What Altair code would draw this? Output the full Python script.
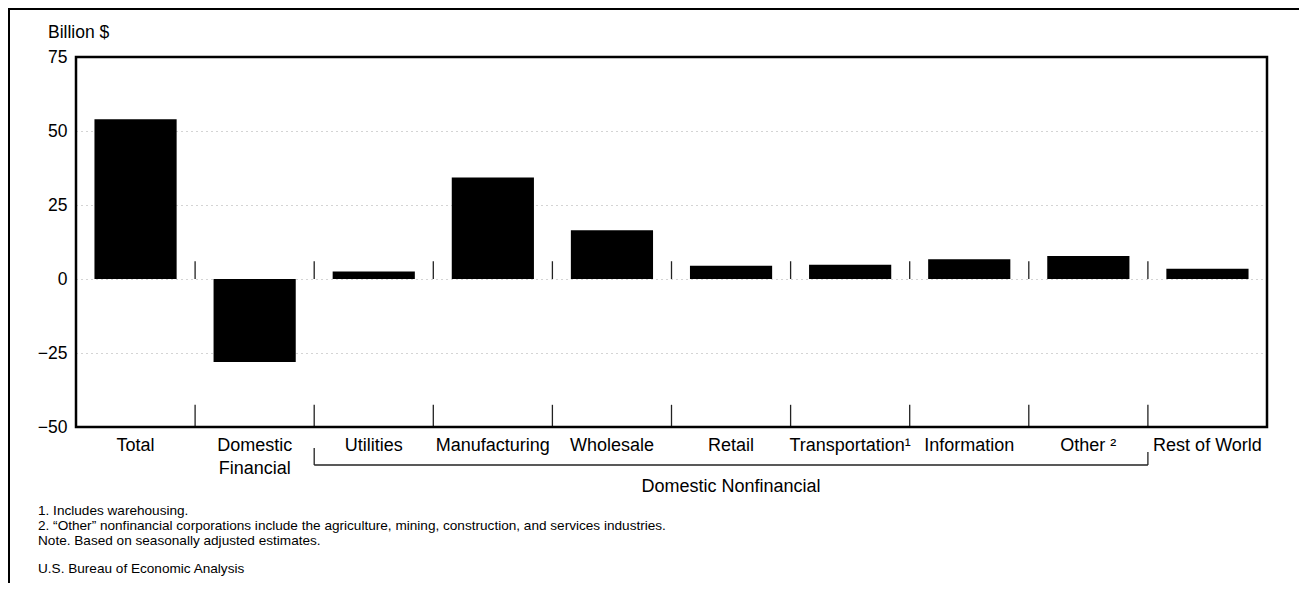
import altair as alt
import pandas as pd

categories = ["Total", "Domestic Financial", "Utilities", "Manufacturing", "Wholesale",
              "Retail", "Transportation", "Information", "Other", "Rest of World"]
values = [54.0, -28.0, 2.5, 34.3, 16.5, 4.5, 4.8, 6.7, 7.8, 3.5]
label_top = ["Total", "Domestic", "Utilities", "Manufacturing", "Wholesale",
             "Retail", "Transportation\u00b9", "Information", "Other \u00b2", "Rest of World"]
label_bottom = ["", "Financial", "", "", "", "", "", "", "", ""]
y_ticks = [-50, -25, 0, 25, 50, 75]
group_label = "Domestic Nonfinancial"
group_first = "Utilities"
group_last = "Other"
y_title = "Billion $"
footnotes = [
    "1. Includes warehousing.",
    "2. \u201cOther\u201d nonfinancial corporations include the agriculture, mining, construction, and services industries.",
    "Note. Based on seasonally adjusted estimates.",
]
source = "U.S. Bureau of Economic Analysis"

W, H = 1191, 370
FONT = "Liberation Sans, Arial, Helvetica, sans-serif"
NARROW = "Liberation Sans Narrow, Liberation Sans, Arial, sans-serif"

n = len(categories)
df = pd.DataFrame({"category": categories, "value": values,
                   "top": label_top, "bottom": label_bottom})
df["idx"] = range(n)
df["x0"] = df["idx"] + 0.155
df["x1"] = df["idx"] + 0.845
df["xc"] = df["idx"] + 0.5
sep = pd.DataFrame({"b": list(range(1, n))})
one = pd.DataFrame({"k": [0]})

xs = alt.Scale(domain=[0, n], nice=False, zero=False)
ys = alt.Scale(domain=[y_ticks[0], y_ticks[-1]], nice=False)

yaxis = alt.Axis(values=y_ticks, title=None, grid=True, gridColor="#a8a8a8",
                 gridDash=[1, 4], gridWidth=1, ticks=False, domain=False,
                 labelFontSize=17.5, labelColor="black", labelFont=FONT,
                 labelPadding=9, labelExpr="replace(datum.label, '-', '\u2212')")

bars = alt.Chart(df).mark_bar(color="black").encode(
    x=alt.X("x0:Q", scale=xs, axis=None), x2="x1",
    y=alt.Y("value:Q", scale=ys, axis=yaxis), y2=alt.datum(0))

sep_zero = alt.Chart(sep).mark_rule(color="#222", strokeWidth=1.3).encode(
    x=alt.X("b:Q", scale=xs, axis=None), y=alt.datum(0), y2=alt.datum(6))
sep_bot = alt.Chart(sep).mark_rule(color="#222", strokeWidth=1.3).encode(
    x=alt.X("b:Q", scale=xs, axis=None), y=alt.datum(-50), y2=alt.datum(-42.5))

lab1 = alt.Chart(df).mark_text(fontSize=18, font=FONT, color="black", baseline="middle").encode(
    x=alt.X("xc:Q", scale=xs, axis=None), y=alt.value(389), text="top:N")
lab2 = alt.Chart(df).mark_text(fontSize=18, font=FONT, color="black", baseline="middle").encode(
    x=alt.X("xc:Q", scale=xs, axis=None), y=alt.value(412), text="bottom:N")

g0 = categories.index(group_first)
g1 = categories.index(group_last) + 1
br_l = alt.Chart(one).mark_rule(color="#222", strokeWidth=1.3).encode(
    x=alt.datum(g0), y=alt.value(391), y2=alt.value(408))
br_h = alt.Chart(one).mark_rule(color="#222", strokeWidth=1.3).encode(
    x=alt.datum(g0), x2=alt.datum(g1), y=alt.value(408))
br_r = alt.Chart(one).mark_rule(color="#222", strokeWidth=1.3).encode(
    x=alt.datum(g1), y=alt.value(395), y2=alt.value(408))
grp = alt.Chart(one).mark_text(fontSize=18, font=FONT, color="black", baseline="middle",
                               text=group_label).encode(
    x=alt.datum((g0 + g1) / 2), y=alt.value(430))

ytitle = alt.Chart(one).mark_text(fontSize=17.5, font=FONT, color="black", align="left",
                                  baseline="middle", text=y_title).encode(
    x=alt.value(-28), y=alt.value(-24))

notes = []
for t, yy in zip(footnotes + [source], [454, 469, 484, 512]):
    notes.append(alt.Chart(one).mark_text(fontSize=13.6, font=NARROW, color="black",
                                          align="left", baseline="middle", text=t).encode(
        x=alt.value(-38), y=alt.value(yy)))

plot_frame = alt.Chart(one).mark_rect(fill="transparent", stroke="black", strokeWidth=2.5).encode(
    x=alt.value(0), x2=alt.value(W), y=alt.value(0), y2=alt.value(H))
frame_top = alt.Chart(one).mark_rule(color="black", strokeWidth=2).encode(
    x=alt.value(-68), x2=alt.value(W + 32), y=alt.value(-48))
frame_left = alt.Chart(one).mark_rule(color="black", strokeWidth=2).encode(
    x=alt.value(-67), y=alt.value(-48), y2=alt.value(526))

chart = alt.layer(bars, sep_zero, sep_bot, lab1, lab2, br_l, br_h, br_r, grp, ytitle,
                  *notes, plot_frame, frame_top, frame_left).properties(
    width=W, height=H,
    autosize=alt.AutoSizeParams(type="none"),
    padding={"left": 68, "top": 49, "right": 32, "bottom": 156},
).configure_view(stroke=None).configure(background="white")

chart.save("out.html", embed_options={"renderer": "svg", "actions": False})
